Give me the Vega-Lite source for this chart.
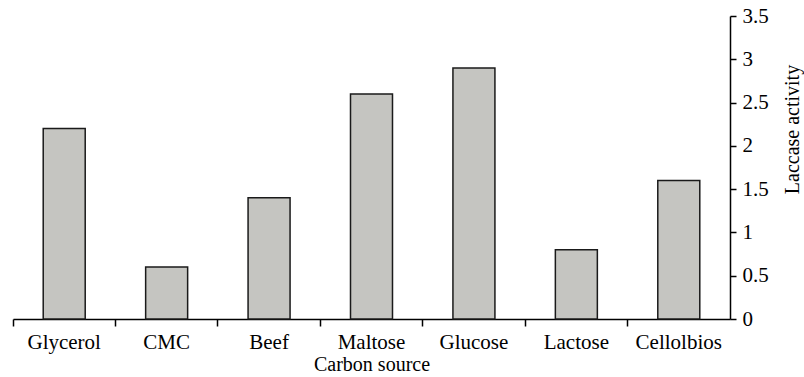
{
  "$schema": "https://vega.github.io/schema/vega-lite/v6.json",
  "autosize": "none",
  "width": 717,
  "height": 303,
  "padding": {"left": 13, "top": 16, "right": 74, "bottom": 58},
  "background": "white",
  "config": {
    "view": {"stroke": null},
    "font": "Liberation Serif",
    "axis": {
      "labelFont": "Liberation Serif",
      "titleFont": "Liberation Serif",
      "labelFontSize": 21,
      "titleFontSize": 20,
      "labelColor": "black",
      "titleColor": "black",
      "titleFontWeight": "normal",
      "domainColor": "black",
      "domainWidth": 1.5,
      "tickColor": "black",
      "tickWidth": 1.5,
      "grid": false
    }
  },
  "data": {
    "values": [
      {"source": "Glycerol", "activity": 2.2},
      {"source": "CMC", "activity": 0.6},
      {"source": "Beef", "activity": 1.4},
      {"source": "Maltose", "activity": 2.6},
      {"source": "Glucose", "activity": 2.9},
      {"source": "Lactose", "activity": 0.8},
      {"source": "Cellolbios", "activity": 1.6}
    ]
  },
  "mark": {
    "type": "bar",
    "width": {"band": 0.41},
    "fill": "#c5c5c1",
    "stroke": "#1a1a1a",
    "strokeWidth": 1.5
  },
  "encoding": {
    "x": {
      "field": "source",
      "type": "nominal",
      "sort": null,
      "scale": {"paddingInner": 0, "paddingOuter": 0},
      "axis": {
        "title": "Carbon source",
        "labelAngle": 0,
        "bandPosition": 0,
        "tickSize": 7,
        "labelPadding": 5,
        "titlePadding": 2,
        "labelOffset": 0
      }
    },
    "y": {
      "field": "activity",
      "type": "quantitative",
      "scale": {"domain": [0, 3.5], "nice": false},
      "axis": {
        "orient": "right",
        "title": "Laccase activity",
        "values": [0, 0.5, 1, 1.5, 2, 2.5, 3, 3.5],
        "format": "~g",
        "tickSize": 6,
        "labelPadding": 6,
        "titleAngle": 270,
        "titleAlign": "center",
        "titleBaseline": "middle",
        "titleX": 62,
        "titleY": 113
      }
    }
  }
}
